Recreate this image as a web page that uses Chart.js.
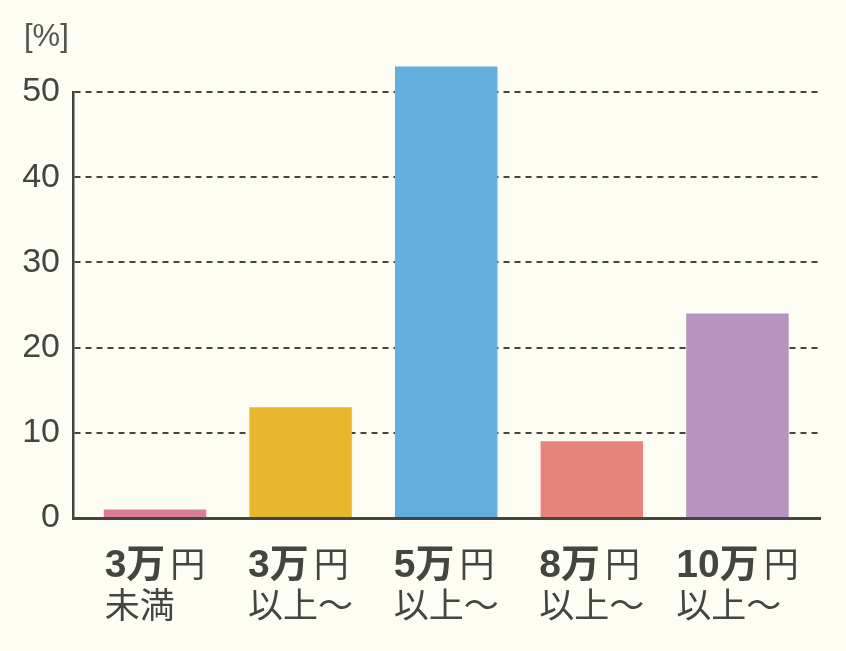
<!DOCTYPE html>
<html>
<head>
<meta charset="utf-8">
<script src="https://cdn.jsdelivr.net/npm/chart.js@4.4.0/dist/chart.umd.min.js"></script>
<style>
html, body { margin: 0; padding: 0; background: #fdfdf4; }
#wrap { width: 846px; height: 651px; position: relative; }
</style>
</head>
<body>
<div id="wrap"><canvas id="priceChart"></canvas></div>
<script>
// chart data
const amounts = ['3万', '3万', '5万', '8万', '10万'];
const unit = '円';
const ranges = ['未満', '以上～', '以上～', '以上～', '以上～'];
const shares = [1, 13, 53, 9, 24];
const barColors = ['#dc7d96', '#e8b72f', '#62afdd', '#e6837d', '#b993bf'];
const yTicks = [0, 10, 20, 30, 40, 50];
const yUnit = '[%]';

const inkColor = '#45453f';
const boldFont = 'bold 39px "Liberation Sans", "Noto Sans CJK JP", sans-serif';
const regFont = '35px "Noto Sans CJK JP", sans-serif';

// draws the two-line category labels (bold amount + regular text) and the unit
const labelPlugin = {
    id: 'twoLineLabels',
    afterDraw(chart) {
        const { ctx } = chart;
        const x = chart.scales.x;
        const y = chart.scales.y;
        ctx.save();
        ctx.fillStyle = inkColor;
        ctx.textAlign = 'left';
        ctx.textBaseline = 'alphabetic';
        amounts.forEach((amt, i) => {
            const cx = x.getPixelForValue(i);
            const gap = 5;
            ctx.font = boldFont;
            const wA = ctx.measureText(amt).width;
            ctx.font = regFont;
            const wU = ctx.measureText(unit).width;
            const w2 = ctx.measureText(ranges[i]).width;
            const left = cx - Math.max(wA + gap + wU, w2) / 2;
            const y1 = y.bottom + 59;
            ctx.font = boldFont;
            ctx.fillText(amt, left, y1);
            ctx.font = regFont;
            ctx.fillText(unit, left + wA + gap, y1);
            ctx.fillText(ranges[i], left, y1 + 41);
        });
        ctx.font = '31px "Liberation Sans", sans-serif';
        ctx.fillStyle = '#55554f';
        ctx.fillText(yUnit, 24, 46);
        ctx.restore();
    }
};

new Chart(document.getElementById('priceChart'), {
    type: 'bar',
    data: {
        datasets: [{
            data: shares.map((v, i) => ({ x: i, y: v })),
            backgroundColor: barColors,
            borderWidth: 0,
            barPercentage: 0.704,
            categoryPercentage: 1,
            clip: false
        }]
    },
    plugins: [labelPlugin],
    options: {
        responsive: true,
        maintainAspectRatio: false,
        animation: false,
        layout: {
            padding: { top: 92, right: 26, left: 0, bottom: 0 }
        },
        plugins: {
            legend: { display: false },
            tooltip: { enabled: false }
        },
        scales: {
            x: {
                type: 'linear',
                offset: false,
                min: -0.563,
                max: 4.567,
                z: 1,
                afterBuildTicks: s => { s.ticks = amounts.map((a, i) => ({ value: i })); },
                afterFit: s => { s.height = 133; },
                ticks: { display: false },
                grid: { display: false, drawTicks: false },
                border: { display: true, color: inkColor, width: 3 }
            },
            y: {
                min: 0,
                max: 50,
                afterBuildTicks: s => { s.ticks = yTicks.map(v => ({ value: v })); },
                afterFit: s => { s.width = 73; },
                ticks: {
                    color: inkColor,
                    padding: 13,
                    font: { family: '"Liberation Sans", sans-serif', size: 34 }
                },
                grid: {
                    color: inkColor,
                    lineWidth: 2,
                    drawTicks: false
                },
                border: { display: true, color: inkColor, width: 2.5, dash: [6, 5] }
            }
        }
    }
});
</script>
</body>
</html>
